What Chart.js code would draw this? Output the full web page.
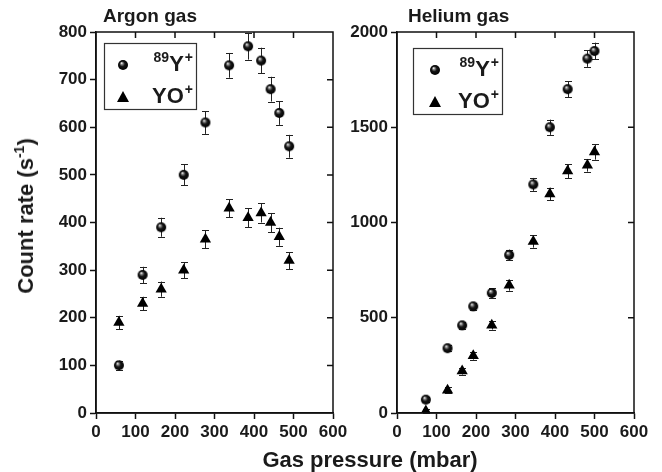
<!DOCTYPE html>
<html>
<head>
<meta charset="utf-8">
<script src="https://cdn.jsdelivr.net/npm/chart.js@4.4.1/dist/chart.umd.min.js"></script>
<style>
  body { margin: 0; background: #fff; }
  #wrap { position: relative; width: 662px; height: 472px; overflow: hidden;
          font-family: "Liberation Sans", Arial, sans-serif; font-weight: bold; color: #1a1a1a; }
  canvas { position: absolute; top: 0; }
  .lbl { position: absolute; white-space: nowrap; line-height: 22px; }
  .panel { font-size: 19px; top: 5px; }
  .axis { font-size: 22px; }
  .axis sup { font-size: 14px; vertical-align: 0; position: relative; top: -9px; }
</style>
</head>
<body>
<div id="wrap">
  <canvas id="argon" width="360" height="472" style="left:0"></canvas>
  <canvas id="helium" width="322" height="472" style="left:340px"></canvas>
  <div class="lbl panel" style="left:103px">Argon gas</div>
  <div class="lbl panel" style="left:408px">Helium gas</div>
  <div class="lbl axis" style="left:27px; top:216px; transform: translate(-50%,-50%) rotate(-90deg)">Count rate (s<sup>-1</sup>)</div>
  <div class="lbl axis" style="left:370px; top:449px; transform: translateX(-50%)">Gas pressure (mbar)</div>
</div>
<script>
// Argon
const argonP = [58, 118, 165, 222, 277, 337, 385, 418, 442, 464, 489];
const argonY = [100, 290, 390, 500, 610, 730, 770, 740, 680, 630, 560];
const argonYErr = [10, 17, 20, 22, 24, 26, 28, 27, 26, 25, 24];
const argonYO = [190, 230, 260, 300, 365, 430, 410, 420, 400, 370, 320];
const argonYOErr = [14, 14, 16, 17, 19, 19, 20, 20, 20, 19, 18];

// Helium
const heliumP = [73, 128, 165, 193, 240, 284, 345, 387, 432, 482, 500];
const heliumY = [70, 340, 460, 560, 630, 830, 1200, 1500, 1700, 1860, 1900];
const heliumYErr = [12, 15, 18, 20, 24, 28, 34, 40, 42, 43, 44];
const heliumYO = [10, 120, 220, 300, 460, 670, 900, 1150, 1270, 1300, 1370];
const heliumYOErr = [10, 14, 18, 20, 22, 28, 32, 33, 37, 33, 40];

const ink = "#1a1a1a";
const tickFont = { family: "Liberation Sans, Arial, sans-serif", size: 17, weight: "bold" };

// shaded ball marker
function makeBall(r) {
  const c = document.createElement("canvas");
  c.width = c.height = r * 2 + 2;
  const g = c.getContext("2d");
  const cx = r + 1, cy = r + 1;
  const grad = g.createRadialGradient(cx - r * 0.3, cy - r * 0.4, 0.2, cx, cy, r);
  grad.addColorStop(0, "#ffffff");
  grad.addColorStop(0.2, "#8a8a8a");
  grad.addColorStop(0.5, "#161616");
  grad.addColorStop(1, "#000000");
  g.fillStyle = grad;
  g.beginPath();
  g.arc(cx, cy, r, 0, Math.PI * 2);
  g.fill();
  return c;
}
const ball = makeBall(5);

function toPoints(xs, ys) {
  return xs.map((x, i) => ({ x: x, y: ys[i] }));
}

// vertical error bars with caps, drawn under the markers
const errorBars = {
  id: "errorBars",
  beforeDatasetsDraw(chart) {
    const ctx = chart.ctx;
    const xs = chart.scales.x, ys = chart.scales.y;
    ctx.save();
    ctx.strokeStyle = "#222";
    ctx.lineWidth = 1;
    chart.data.datasets.forEach(ds => {
      ds.data.forEach((p, i) => {
        const e = ds.errors[i];
        const px = Math.round(xs.getPixelForValue(p.x)) + 0.5;
        const top = ys.getPixelForValue(p.y + e);
        const bot = ys.getPixelForValue(p.y - e);
        ctx.beginPath();
        ctx.moveTo(px, top); ctx.lineTo(px, bot);
        ctx.moveTo(px - 3.5, Math.round(top) + 0.5); ctx.lineTo(px + 3.5, Math.round(top) + 0.5);
        ctx.moveTo(px - 3.5, Math.round(bot) + 0.5); ctx.lineTo(px + 3.5, Math.round(bot) + 0.5);
        ctx.stroke();
      });
    });
    ctx.restore();
  }
};

// closed frame with inward ticks on top and right
const frame = {
  id: "frame",
  afterDraw(chart) {
    const ctx = chart.ctx;
    const a = chart.chartArea;
    const xs = chart.scales.x, ys = chart.scales.y;
    ctx.save();
    ctx.strokeStyle = "#111";
    ctx.lineWidth = 1.5;
    ctx.strokeRect(a.left, a.top, a.right - a.left, a.bottom - a.top);
    ctx.beginPath();
    xs.ticks.forEach(t => {
      if (t.value <= xs.min || t.value >= xs.max) return;
      const px = xs.getPixelForValue(t.value);
      ctx.moveTo(px, a.top); ctx.lineTo(px, a.top + 6);
    });
    ys.ticks.forEach(t => {
      if (t.value <= ys.min || t.value >= ys.max) return;
      const py = ys.getPixelForValue(t.value);
      ctx.moveTo(a.right, py); ctx.lineTo(a.right - 6, py);
    });
    ctx.stroke();
    ctx.restore();
  }
};

// boxed legend inside the plot
const boxLegend = {
  id: "boxLegend",
  afterDraw(chart, args, opts) {
    const ctx = chart.ctx;
    const a = chart.chartArea;
    const bx = a.left + opts.x, by = a.top + opts.y;
    ctx.save();
    ctx.strokeStyle = "#333";
    ctx.lineWidth = 1.2;
    ctx.strokeRect(bx + 0.5, by + 0.5, opts.w, opts.h);

    const mx = bx + opts.markerX;
    ctx.drawImage(ball, mx - ball.width / 2, by + 22 - ball.height / 2);
    ctx.fillStyle = "#000";
    ctx.beginPath();
    ctx.moveTo(mx, by + 48); ctx.lineTo(mx + 6, by + 59); ctx.lineTo(mx - 6, by + 59);
    ctx.closePath();
    ctx.fill();

    ctx.fillStyle = ink;
    ctx.textBaseline = "alphabetic";
    const big = "bold 22px Liberation Sans, Arial, sans-serif";
    const small = "bold 14px Liberation Sans, Arial, sans-serif";
    const right = bx + opts.w - 3;

    // 89Y+
    ctx.font = small; const wp = ctx.measureText("+").width; const w89 = ctx.measureText("89").width;
    ctx.font = big; const wY = ctx.measureText("Y").width;
    let x = right - wp;
    ctx.font = small; ctx.fillText("+", x, by + 19);
    x -= wY + 1;
    ctx.font = big; ctx.fillText("Y", x, by + 28);
    x -= w89;
    ctx.font = small; ctx.fillText("89", x, by + 19);

    // YO+
    ctx.font = big; const wYO = ctx.measureText("YO").width;
    x = right - wp;
    ctx.font = small; ctx.fillText("+", x, by + 51);
    x -= wYO + 1;
    ctx.font = big; ctx.fillText("YO", x, by + 60);
    ctx.restore();
  }
};

function makeChart(id, p, y, yErr, yo, yoErr, yMax, yStep, yWidth, padRight, legend) {
  return new Chart(document.getElementById(id), {
    type: "scatter",
    plugins: [errorBars, frame, boxLegend],
    data: {
      datasets: [
        {
          label: "89Y+",
          data: toPoints(p, y),
          errors: yErr,
          pointStyle: ball,
          pointRadius: 5
        },
        {
          label: "YO+",
          data: toPoints(p, yo),
          errors: yoErr,
          pointStyle: "triangle",
          pointRadius: 6.5,
          backgroundColor: "#000",
          borderColor: "#000",
          borderWidth: 0
        }
      ]
    },
    options: {
      responsive: false,
      animation: false,
      layout: { padding: { left: 0, right: padRight, top: 32, bottom: 0 } },
      scales: {
        x: {
          type: "linear",
          min: 0,
          max: 600,
          afterFit: s => { s.height = 59; },
          ticks: { stepSize: 100, color: ink, font: tickFont, padding: 3, maxRotation: 0,
                   callback: v => String(v) },
          grid: { drawOnChartArea: false, tickLength: 6, color: "#111", tickWidth: 1.5 },
          border: { color: "#111", width: 1.5 }
        },
        y: {
          type: "linear",
          min: 0,
          max: yMax,
          afterFit: s => { s.width = yWidth; },
          ticks: { stepSize: yStep, color: ink, font: tickFont, padding: 3,
                   callback: v => String(v) },
          grid: { drawOnChartArea: false, tickLength: 6, color: "#111", tickWidth: 1.5 },
          border: { color: "#111", width: 1.5 }
        }
      },
      plugins: {
        legend: { display: false },
        tooltip: { enabled: false },
        boxLegend: legend
      }
    }
  });
}

makeChart("argon", argonP, argonY, argonYErr, argonYO, argonYOErr, 800, 100, 96, 27,
  { x: 8, y: 11, w: 92, h: 66, markerX: 19 });
makeChart("helium", heliumP, heliumY, heliumYErr, heliumYO, heliumYOErr, 2000, 500, 57, 28,
  { x: 16, y: 16, w: 89, h: 66, markerX: 22 });
</script>
</body>
</html>
